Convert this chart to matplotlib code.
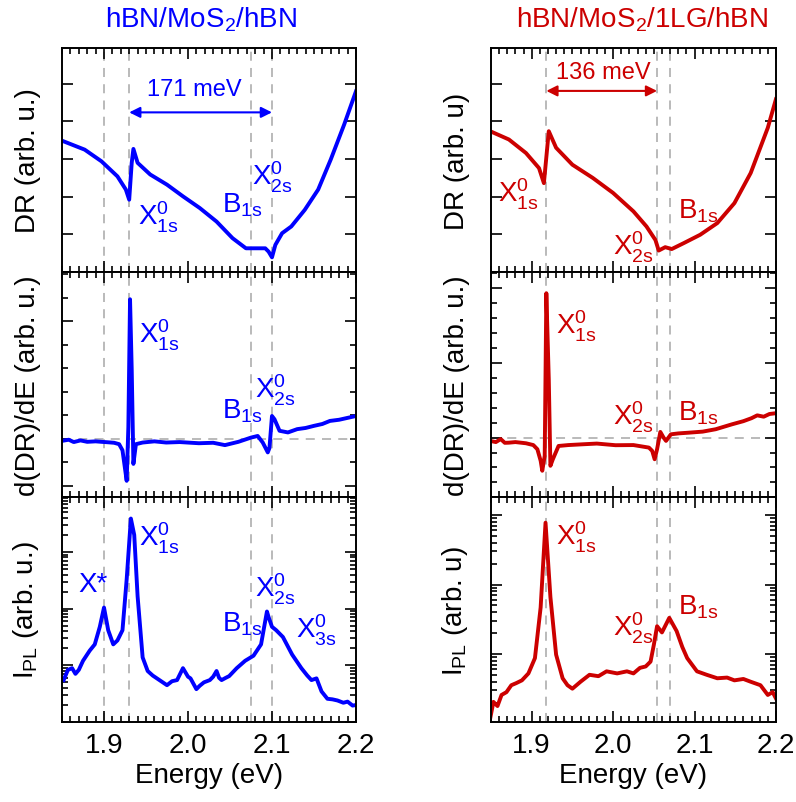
import numpy as np
import matplotlib
matplotlib.use("Agg")
import matplotlib.pyplot as plt
from matplotlib.ticker import MultipleLocator, FixedLocator, LogLocator, NullFormatter, NullLocator

plt.rcParams['font.family'] = ['Liberation Sans', 'DejaVu Sans']
plt.rcParams['mathtext.fontset'] = 'custom'
plt.rcParams['mathtext.rm'] = 'Liberation Sans'
plt.rcParams['mathtext.it'] = 'Liberation Sans:italic'

BLUE = '#0000ff'
RED = '#cc0000'
GREY = '#b4b4b4'

# ---- hBN/MoS2/hBN (links) ----
# reflectancia diferencial (unidades arbitrarias)
e_dr_a = [1.852, 1.877, 1.897, 1.916, 1.926, 1.930, 1.933, 1.935, 1.940, 1.955, 1.975, 1.994,
          2.014, 2.034, 2.053, 2.069, 2.081, 2.092, 2.096, 2.100, 2.104, 2.112, 2.123, 2.139,
          2.155, 2.170, 2.186, 2.200]
dr_a = [3.47, 3.25, 2.94, 2.54, 2.19, 1.92, 2.90, 3.27, 2.90, 2.59, 2.32, 2.01,
        1.70, 1.34, 0.90, 0.63, 0.63, 0.63, 0.54, 0.39, 0.72, 1.03, 1.21, 1.65,
        2.19, 2.99, 3.92, 4.80]

# derivada d(DR)/dE
e_der_a = [1.850, 1.858, 1.864, 1.872, 1.880, 1.890, 1.897, 1.905, 1.912, 1.918, 1.922, 1.924,
           1.927, 1.929, 1.931, 1.933, 1.935, 1.938, 1.946, 1.960, 1.974, 1.990, 2.013, 2.030,
           2.044, 2.060, 2.075, 2.083, 2.089, 2.095, 2.097, 2.100, 2.103, 2.109, 2.119, 2.130,
           2.140, 2.150, 2.160, 2.169, 2.180, 2.190, 2.200]
der_a = [-0.10, -0.05, -0.15, -0.08, -0.14, -0.12, -0.14, -0.16, -0.18, -0.24, -0.50, -1.02,
         -1.80, 0.50, 5.93, 2.94, -1.08, -0.24, -0.17, -0.12, -0.17, -0.15, -0.20, -0.18,
         -0.28, -0.14, 0.04, 0.11, -0.17, -0.59, -0.40, 0.96, 0.82, 0.33, 0.26, 0.40,
         0.45, 0.54, 0.62, 0.75, 0.80, 0.88, 0.96]

# photoluminescence (log)
e_pl_a = [1.852, 1.857, 1.862, 1.866, 1.870, 1.875, 1.883, 1.889, 1.895, 1.900, 1.905, 1.911,
          1.916, 1.922, 1.927, 1.932, 1.936, 1.940, 1.946, 1.952, 1.958, 1.963, 1.970, 1.975,
          1.981, 1.987, 1.994, 2.000, 2.003, 2.010, 2.014, 2.019, 2.026, 2.030, 2.034, 2.037,
          2.040, 2.045, 2.049, 2.058, 2.068, 2.078, 2.087, 2.090, 2.094, 2.096, 2.100, 2.105,
          2.113, 2.124, 2.135, 2.142, 2.147, 2.153, 2.159, 2.166, 2.172, 2.178, 2.185, 2.190,
          2.196, 2.200]
log_pl_a = [0.74, 0.92, 0.95, 0.85, 0.92, 1.08, 1.26, 1.37, 1.68, 2.02, 1.62, 1.37,
            1.44, 1.62, 2.52, 3.59, 3.30, 2.22, 1.14, 0.90, 0.82, 0.77, 0.70, 0.65,
            0.72, 0.74, 0.95, 0.80, 0.77, 0.58, 0.64, 0.70, 0.74, 0.80, 0.90, 0.78,
            0.74, 0.78, 0.81, 0.95, 1.08, 1.17, 1.37, 1.62, 1.95, 1.85, 1.68, 1.62,
            1.50, 1.19, 0.95, 0.82, 0.74, 0.77, 0.54, 0.41, 0.40, 0.38, 0.34, 0.36,
            0.29, 0.30]

# ---- hBN/MoS2/1LG/hBN (rechts) ----
e_dr_b = [1.849, 1.872, 1.893, 1.909, 1.915, 1.921, 1.930, 1.950, 1.975, 2.000, 2.025, 2.041,
          2.052, 2.056, 2.064, 2.072, 2.087, 2.107, 2.128, 2.149, 2.169, 2.190, 2.200]
dr_b = [3.74, 3.52, 3.16, 2.76, 2.36, 3.74, 3.30, 2.85, 2.50, 2.10, 1.61, 1.21,
        0.85, 0.57, 0.66, 0.61, 0.77, 0.99, 1.30, 1.83, 2.63, 3.83, 4.59]

e_der_b = [1.849, 1.856, 1.862, 1.867, 1.872, 1.880, 1.893, 1.902, 1.907, 1.911, 1.913, 1.916,
           1.918, 1.921, 1.923, 1.926, 1.933, 1.945, 1.962, 1.980, 2.003, 2.025, 2.044, 2.048,
           2.051, 2.054, 2.058, 2.062, 2.065, 2.071, 2.080, 2.093, 2.110, 2.126, 2.146, 2.160,
           2.170, 2.177, 2.185, 2.192, 2.198]
der_b = [-0.22, -0.30, -0.10, -0.35, -0.34, -0.30, -0.38, -0.50, -0.78, -1.55, -2.22, -1.22,
         9.67, 3.90, -1.89, -1.45, -0.56, -0.50, -0.45, -0.40, -0.51, -0.50, -0.67, -0.89,
         -1.45, -0.78, 0.38, 0.00, -0.22, 0.22, 0.28, 0.33, 0.40, 0.56, 0.89, 1.10,
         1.30, 1.49, 1.40, 1.58, 1.62]

e_pl_b = [1.849, 1.853, 1.858, 1.863, 1.869, 1.875, 1.881, 1.888, 1.896, 1.904, 1.911, 1.917,
          1.923, 1.930, 1.938, 1.944, 1.950, 1.960, 1.971, 1.982, 1.992, 2.005, 2.017, 2.025,
          2.033, 2.040, 2.046, 2.050, 2.054, 2.060, 2.069, 2.078, 2.085, 2.091, 2.103, 2.115,
          2.128, 2.140, 2.149, 2.160, 2.169, 2.181, 2.190, 2.196, 2.200]
log_pl_b = [0.07, 0.31, 0.25, 0.41, 0.45, 0.55, 0.58, 0.62, 0.72, 0.94, 1.67, 2.89,
            1.82, 0.99, 0.65, 0.55, 0.50, 0.60, 0.70, 0.68, 0.75, 0.72, 0.75, 0.72,
            0.80, 0.82, 0.89, 1.13, 1.40, 1.31, 1.52, 1.33, 1.10, 0.94, 0.75, 0.70,
            0.65, 0.66, 0.62, 0.64, 0.60, 0.55, 0.41, 0.45, 0.36]

lines_a = [1.900, 1.930, 2.075, 2.100]
lines_b = [1.918, 2.054, 2.070]


def style(ax, last):
    ax.set_xlim(1.85, 2.2)
    ax.xaxis.set_major_locator(MultipleLocator(0.1))
    ax.xaxis.set_minor_locator(MultipleLocator(0.01))
    ax.tick_params(which='both', direction='in', top=True, right=True, width=1.2,
                   labelsize=20, labelleft=False, labelbottom=last, pad=7)
    ax.tick_params(which='major', length=8)
    ax.tick_params(which='minor', length=4)
    for s in ax.spines.values():
        s.set_linewidth(1.4)
    if last:
        ax.set_xticks([1.9, 2.0, 2.1, 2.2])
        ax.set_xticklabels(['1.9', '2.0', '2.1', '2.2'])
        ax.set_xlabel('Energy (eV)', fontsize=20, labelpad=3)


def vlines(ax, xs):
    for x in xs:
        ax.axvline(x, color=GREY, lw=1.3, ls=(0, (5, 4)), zorder=0)


def lab(ax, x, y, s, c):
    ax.text(x, y, s, color=c, fontsize=20, ha='left', va='center')


fig = plt.figure(figsize=(7.96, 8.03), dpi=100)
L = [0.0779, 0.6168]
W = [0.3693, 0.358]
B = [0.66, 0.3798, 0.0996]
H = 0.2802

cols = [(BLUE, lines_a, e_dr_a, dr_a, e_der_a, der_a, e_pl_a, log_pl_a),
        (RED, lines_b, e_dr_b, dr_b, e_der_b, der_b, e_pl_b, log_pl_b)]

axes = []
for i, (c, vl, edr, dr, eder, der, epl, lpl) in enumerate(cols):
    ax1 = fig.add_axes([L[i], B[0], W[i], 0.279])
    ax2 = fig.add_axes([L[i], B[1], W[i], H])
    ax3 = fig.add_axes([L[i], B[2], W[i], H])

    # DR
    vlines(ax1, vl)
    ax1.plot(edr, dr, color=c, lw=2.8)
    ax1.set_ylim(0, 5.95)
    ax1.yaxis.set_major_locator(MultipleLocator(1))
    ax1.yaxis.set_minor_locator(NullLocator())
    style(ax1, False)

    # derivada
    vlines(ax2, vl)
    ax2.axhline(0, color=GREY, lw=1.3, ls=(0, (5, 4)), zorder=0)
    ax2.plot(eder, der, color=c, lw=2.8)
    if i == 0:
        ax2.set_ylim(-2.49, 7.09)
        ax2.yaxis.set_major_locator(FixedLocator([-2, 5]))
        ax2.yaxis.set_minor_locator(MultipleLocator(1))
    else:
        ax2.set_ylim(-3.98, 11.09)
        ax2.yaxis.set_major_locator(FixedLocator([0, 5, 10]))
        ax2.yaxis.set_minor_locator(MultipleLocator(1))
    style(ax2, False)

    # PL
    vlines(ax3, vl)
    ax3.set_yscale('log')
    ax3.plot(epl, 10 ** np.array(lpl), color=c, lw=2.8)
    if i == 0:
        ax3.set_ylim(1, 10 ** 3.97)
    else:
        ax3.set_ylim(10 ** 0.02, 10 ** 3.26)
    ax3.yaxis.set_major_locator(LogLocator(base=10))
    ax3.yaxis.set_minor_locator(LogLocator(base=10, subs=np.arange(2, 10)))
    ax3.yaxis.set_minor_formatter(NullFormatter())
    style(ax3, True)
    axes.append((ax1, ax2, ax3))

a1, a2, a3 = axes[0]
b1, b2, b3 = axes[1]

# beschriftungen
a1.set_ylabel('DR (arb. u.)', fontsize=20)
a2.set_ylabel('d(DR)/dE (arb. u.)', fontsize=20)
a3.set_ylabel(r'I$_{\rm PL}$ (arb. u.)', fontsize=20)
b1.set_ylabel('DR (arb. u)', fontsize=20)
b2.set_ylabel('d(DR)/dE (arb. u.)', fontsize=20)
b3.set_ylabel(r'I$_{\rm PL}$ (arb. u)', fontsize=20)
for ax in (a1, a2, a3):
    ax.yaxis.set_label_coords(-0.07, 0.5)
for ax in (b1, b2, b3):
    ax.yaxis.set_label_coords(-0.072, 0.5)

X1 = r'X$^{\rm 0}_{\rm 1s}$'
X2 = r'X$^{\rm 0}_{\rm 2s}$'
X3 = r'X$^{\rm 0}_{\rm 3s}$'
B1 = r'B$_{\rm 1s}$'

lab(a1, 1.941, 1.47, X1, BLUE)
lab(a1, 2.041, 1.79, B1, BLUE)
lab(a1, 2.076, 2.53, X2, BLUE)
a1.annotate('', xy=(2.100, 4.24), xytext=(1.930, 4.24),
            arrowprops=dict(arrowstyle='<|-|>', color=BLUE, lw=1.5, mutation_scale=16,
                            shrinkA=0, shrinkB=0))
a1.text(2.008, 4.85, '171 meV', color=BLUE, fontsize=17, ha='center', va='center')

lab(a2, 1.942, 4.42, X1, BLUE)
lab(a2, 2.080, 2.09, X2, BLUE)
lab(a2, 2.041, 1.21, B1, BLUE)

lab(a3, 1.870, 10 ** 2.43, 'X*', BLUE)
lab(a3, 1.942, 10 ** 3.25, X1, BLUE)
lab(a3, 2.080, 10 ** 2.35, X2, BLUE)
lab(a3, 2.041, 10 ** 1.75, B1, BLUE)
lab(a3, 2.129, 10 ** 1.63, X3, BLUE)

lab(b1, 1.859, 2.08, X1, RED)
lab(b1, 2.000, 0.67, X2, RED)
lab(b1, 2.080, 1.65, B1, RED)
b1.annotate('', xy=(2.054, 4.81), xytext=(1.918, 4.81),
            arrowprops=dict(arrowstyle='<|-|>', color=RED, lw=1.5, mutation_scale=16,
                            shrinkA=0, shrinkB=0))
b1.text(1.9875, 5.30, '136 meV', color=RED, fontsize=17, ha='center', va='center')

lab(b2, 1.930, 7.55, X1, RED)
lab(b2, 2.000, 1.44, X2, RED)
lab(b2, 2.080, 1.71, B1, RED)

lab(b3, 1.930, 10 ** 2.70, X1, RED)
lab(b3, 2.000, 10 ** 1.39, X2, RED)
lab(b3, 2.080, 10 ** 1.68, B1, RED)

fig.text(201 / 796, 1 - 20 / 803, r'hBN/MoS$_{\rm 2}$/hBN', color=BLUE, fontsize=20,
         ha='center', va='center')
fig.text(642 / 796, 1 - 20 / 803, r'hBN/MoS$_{\rm 2}$/1LG/hBN', color=RED, fontsize=20,
         ha='center', va='center')

fig.savefig('out.png', dpi=100)
